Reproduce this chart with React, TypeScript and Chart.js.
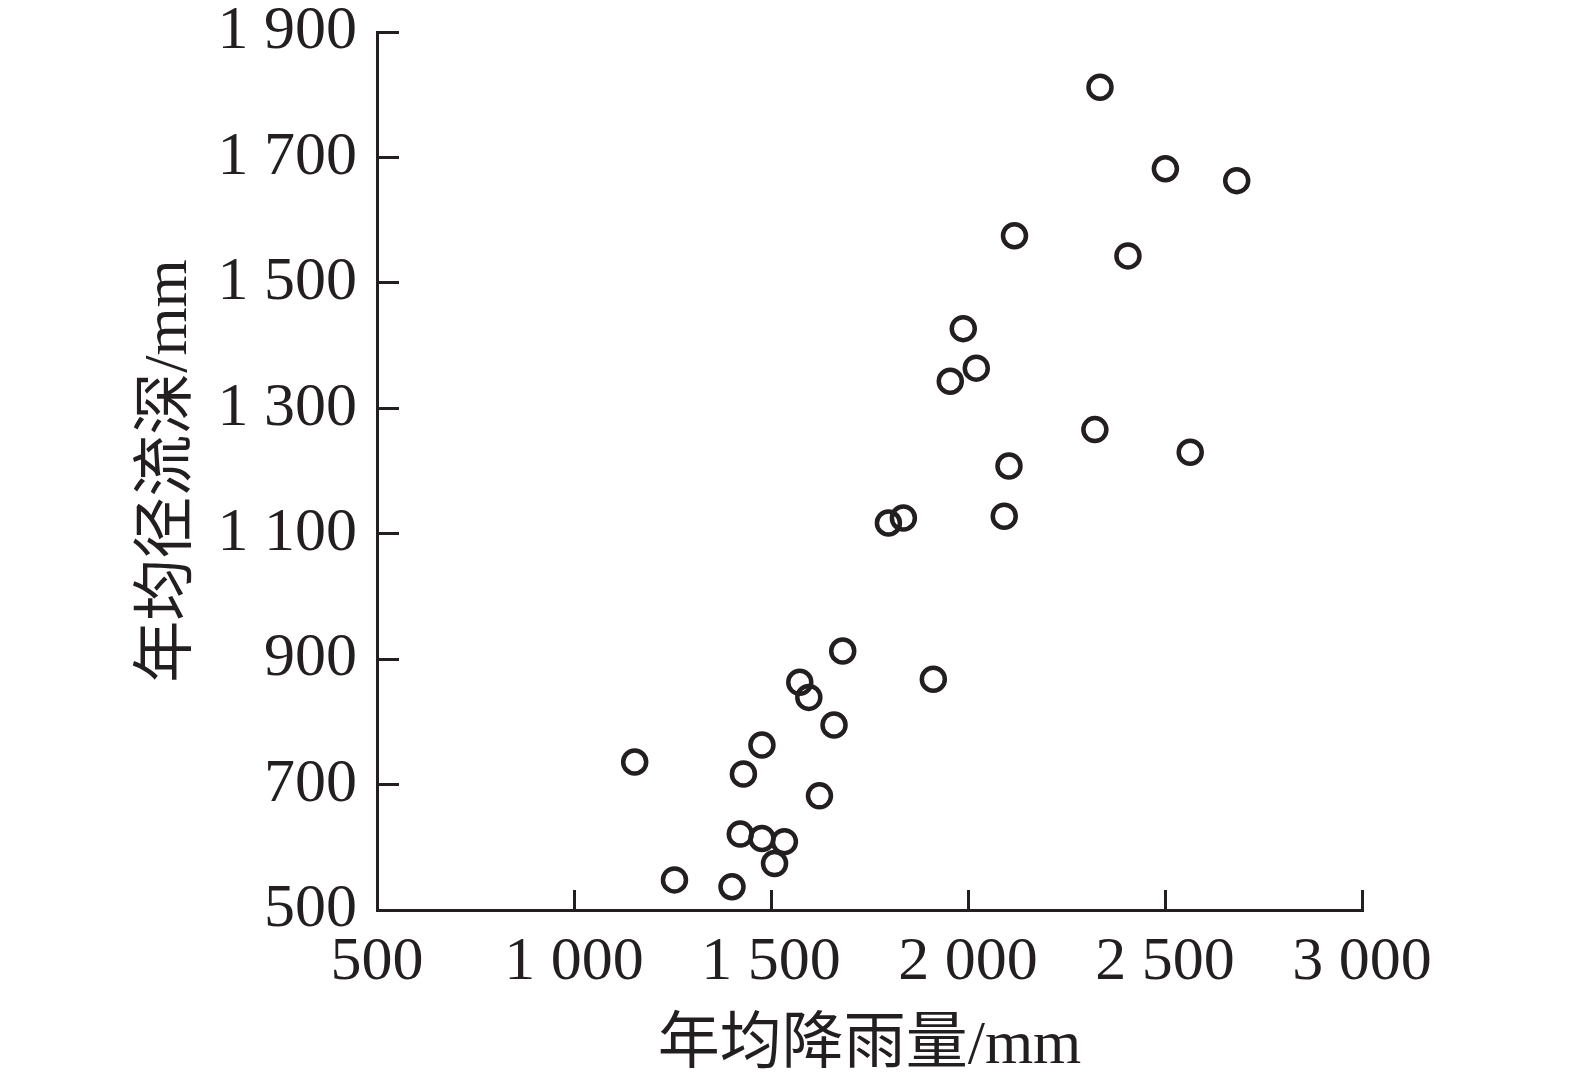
import React, { useEffect, useRef } from 'react';
import { Chart, registerables } from 'chart.js';

Chart.register(...registerables);

// 年均降雨量 (mm)
const rainfall = [
  2335, 2501, 2682, 2118, 2406, 1988, 2021, 1955, 2322, 2564,
  2104, 2092, 1798, 1836, 1682, 1912, 1573, 1596, 1660, 1477,
  1154, 1430, 1623, 1422, 1477, 1534, 1509, 1255, 1401,
];
// 年均径流深 (mm)
const runoff = [
  1812, 1682, 1663, 1575, 1543, 1427, 1364, 1343, 1266, 1230,
  1208, 1128, 1117, 1125, 913, 868, 863, 839, 795, 763,
  736, 717, 682, 621, 614, 609, 574, 548, 537,
];

const xRange = [500, 3000];
const xStep = 500;
const yRange = [500, 1900];
const yStep = 200;

const xTitle = '年均降雨量/mm';
const yTitle = '年均径流深/mm';

const INK = '#231f20';
const SERIF = "'Liberation Serif', 'Times New Roman', 'Noto Sans CJK SC', serif";

const fmt = (v: number) => String(v).replace(/\B(?=(\d{3})+(?!\d))/g, ' ');

export default function App() {
  const ref = useRef<HTMLCanvasElement | null>(null);

  useEffect(() => {
    if (!ref.current) return;
    const points = rainfall.map((x, i) => ({ x, y: runoff[i] }));
    const chart = new Chart(ref.current, {
      type: 'scatter',
      data: {
        datasets: [
          {
            data: points,
            pointStyle: 'circle',
            pointRadius: 11.5,
            pointHoverRadius: 11.5,
            pointBorderWidth: 4.5,
            borderColor: INK,
            backgroundColor: 'rgba(0,0,0,0)',
          },
        ],
      },
      options: {
        animation: false,
        responsive: false,
        devicePixelRatio: 1,
        layout: { padding: { top: 32, right: 213, bottom: 0, left: 0 } },
        plugins: {
          legend: { display: false },
          tooltip: { enabled: false },
        },
        scales: {
          x: {
            type: 'linear',
            position: 'bottom',
            min: xRange[0],
            max: xRange[1],
            grid: {
              display: true,
              drawOnChartArea: false,
              drawTicks: true,
              tickLength: -20,
              lineWidth: 3,
              color: INK,
            },
            border: { display: true, width: 3, color: INK },
            ticks: {
              stepSize: xStep,
              padding: 36,
              color: INK,
              maxRotation: 0,
              autoSkip: false,
              font: { family: SERIF, size: 62 },
              callback: (v: any) => fmt(Number(v)),
            },
            title: {
              display: true,
              text: xTitle,
              color: INK,
              font: { family: SERIF, size: 62 },
              padding: { top: 0, bottom: 1 },
            },
            afterFit: (s: any) => {
              s.height = 175;
              s.paddingLeft = 0;
              s.paddingRight = 0;
            },
          },
          y: {
            type: 'linear',
            position: 'left',
            min: yRange[0],
            max: yRange[1],
            grid: {
              display: true,
              drawOnChartArea: false,
              drawTicks: true,
              tickLength: -22,
              lineWidth: 3,
              color: INK,
            },
            border: { display: true, width: 3, color: INK },
            ticks: {
              stepSize: yStep,
              padding: 42,
              color: INK,
              autoSkip: false,
              font: { family: SERIF, size: 62 },
              callback: (v: any) => fmt(Number(v)),
            },
            title: {
              display: true,
              text: yTitle,
              color: INK,
              font: { family: SERIF, size: 62 },
              padding: { top: 133, bottom: 0 },
            },
            afterFit: (s: any) => {
              s.width = 377;
              s.paddingTop = 0;
              s.paddingBottom = 0;
            },
          },
        },
      },
    });
    return () => chart.destroy();
  }, []);

  return (
    <div style={{ position: 'absolute', left: 0, top: 0, width: 1575, height: 1085, background: '#fff' }}>
      <canvas ref={ref} width={1575} height={1085} />
    </div>
  );
}
